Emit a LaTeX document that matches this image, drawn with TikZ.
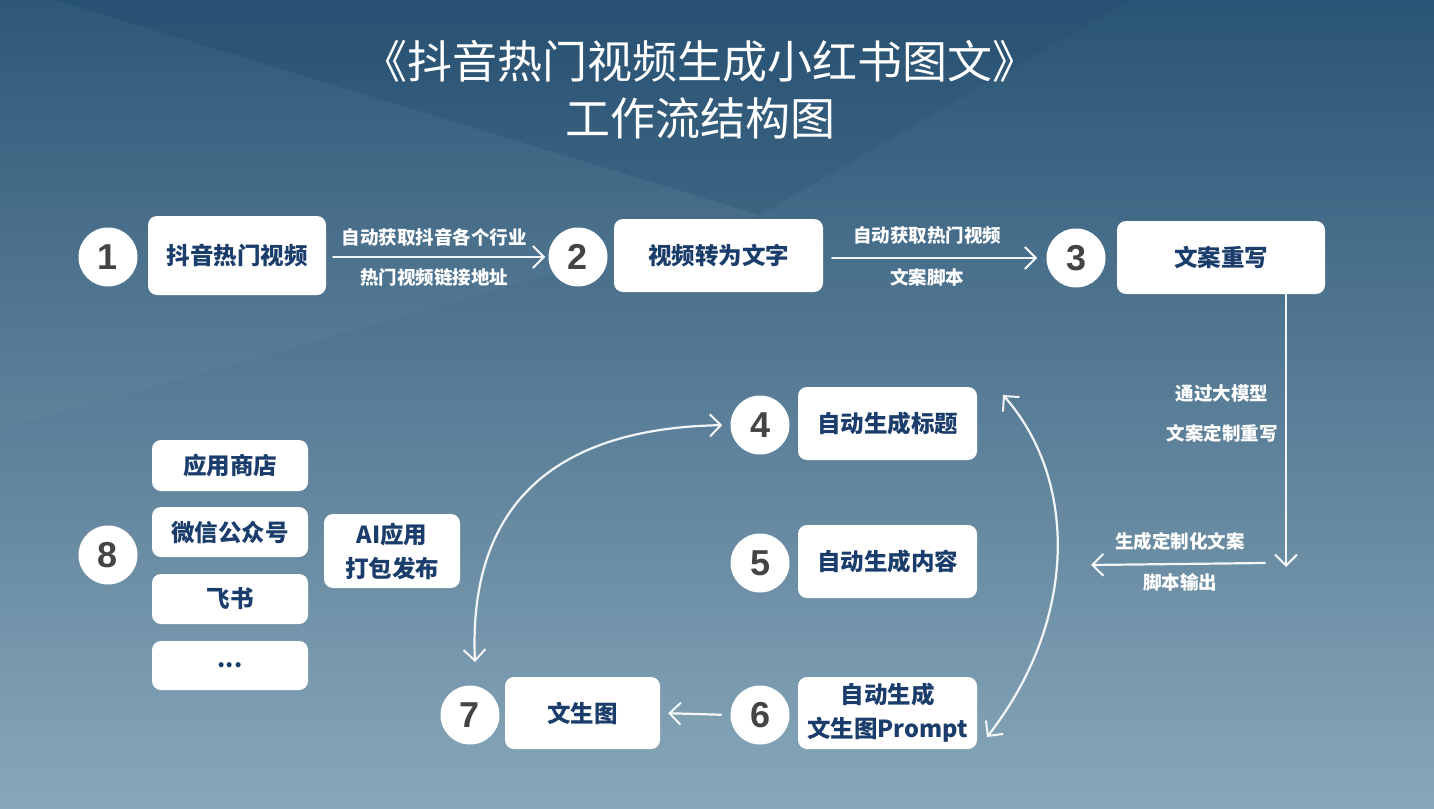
\documentclass[tikz,border=0pt]{standalone}
\usepackage{fontspec}
\setmainfont{Noto Sans CJK SC}
\newfontfamily\numfont{Liberation Sans}
\usetikzlibrary{arrows.meta}
\definecolor{bgtop}{HTML}{2A5475}
\definecolor{bgbot}{HTML}{88A7B9}
\definecolor{wedge}{HTML}{1A3F62}
\definecolor{navy}{HTML}{1B3D6B}
\definecolor{numgray}{HTML}{444444}
\tikzset{
  box/.style={fill=white, rounded corners=9pt, text=navy, font=\fontsize{23.5}{28}\selectfont\bfseries, align=center, inner sep=0pt},
  box2/.style={box, font=\fontsize{23.5}{34}\selectfont\bfseries},
  numc/.style={circle, fill=white, minimum size=59pt, inner sep=0pt, text=numgray, font=\numfont\fontsize{36}{36}\selectfont\bfseries},
  lbl/.style={text=white, font=\fontsize{18.5}{22}\selectfont\bfseries, inner sep=0pt},
  chalk/.style={draw=white, line width=2.2pt, opacity=0.92, line cap=round, -{Straight Barb[length=11pt,width=22pt,line width=2pt]}},
  chalkb/.style={chalk, {Straight Barb[length=11pt,width=22pt,line width=2pt]}-{Straight Barb[length=11pt,width=22pt,line width=2pt]}},
}
\begin{document}
\begin{tikzpicture}[x=1pt,y=-1pt]
\useasboundingbox (0,0) rectangle (1434,808);
\shade[top color=bgtop, bottom color=bgbot] (0,0) rectangle (1434,808);
\fill[wedge, opacity=0.14] (55,0) -- (1130,0) -- (760,215) -- cycle;
\fill[white, opacity=0.025] (0,0) -- (55,0) -- (760,215) -- (0,430) -- cycle;

% title
\node[text=white, font=\fontsize{45}{52}\selectfont, align=center] (title) at (700,90) {《抖音热门视频生成小红书图文》\\[5pt]工作流结构图};

% circles
\node[numc] (c1) at (108,257) {1};
\node[numc] (c2) at (578,257) {2};
\node[numc] (c3) at (1076,258) {3};
\node[numc] (c4) at (760,425) {4};
\node[numc] (c5) at (760,563) {5};
\node[numc] (c6) at (760,715) {6};
\node[numc] (c7) at (470,715) {7};
\node[numc] (c8) at (108,555) {8};

% boxes
\node[box, minimum width=178pt, minimum height=79pt] (b1) at (237,255.5) {抖音热门视频};
\node[box, minimum width=209pt, minimum height=73pt] (b2) at (718.5,255.5) {视频转为文字};
\node[box, minimum width=208pt, minimum height=73pt] (b3) at (1221,257.5) {文案重写};
\node[box, minimum width=179pt, minimum height=73pt] (b4) at (887.5,423.5) {自动生成标题};
\node[box, minimum width=179pt, minimum height=73pt] (b5) at (887.5,561.5) {自动生成内容};
\node[box2, minimum width=179pt, minimum height=72pt] (b6) at (887.5,713) {自动生成\\文生图Prompt};
\node[box, minimum width=155pt, minimum height=72pt] (b7) at (582.5,713) {文生图};

\node[box, minimum width=156pt, minimum height=51pt] (p1) at (230,465.5) {应用商店};
\node[box, minimum width=156pt, minimum height=50pt] (p2) at (230,532) {微信公众号};
\node[box, minimum width=156pt, minimum height=50pt] (p3) at (230,599) {飞书};
\node[box, minimum width=156pt, minimum height=49pt] (p4) at (230,665.5) {...};
\node[box2, minimum width=136pt, minimum height=74pt] (ai) at (392,551) {AI应用\\打包发布};

% labels
\node[lbl] (l1a) at (434,237) {自动获取抖音各个行业};
\node[lbl] (l1b) at (434,277) {热门视频链接地址};
\node[lbl] (l2a) at (927,235) {自动获取热门视频};
\node[lbl] (l2b) at (927,277) {文案脚本};
\node[lbl] (l3a) at (1222,393) {通过大模型};
\node[lbl] (l3b) at (1222,433) {文案定制重写};
\node[lbl] (l4a) at (1180,541) {生成定制化文案};
\node[lbl] (l4b) at (1180,582) {脚本输出};

% connectors
\coordinate (d1) at (1286,567);
\coordinate (d2) at (1265,563);
\coordinate (d3) at (1091,565);
\coordinate (r1) at (987,737);
\coordinate (r2) at (1003,395);
\coordinate (t7) at (475,662);

\draw[chalk, shorten <=7pt, shorten >=3pt] (b1.east |- c2) -- (c2.west);
\draw[chalk, shorten <=9pt, shorten >=9pt] (b2.east |- c3) -- (c3.west);
\draw[chalk] (b3.south -| d1) -- (d1);
\draw[chalk] (d2) -- (d3);
\draw[chalkb] (r1) .. controls (1078,620) and (1078,480) .. (r2);
\draw[chalkb, shorten <=8pt] (c4.west) .. controls (560,428) and (468,500) .. (t7);
\draw[chalk, shorten <=9pt, shorten >=8pt] (c6.west) -- (b7.east);
\end{tikzpicture}
\end{document}
